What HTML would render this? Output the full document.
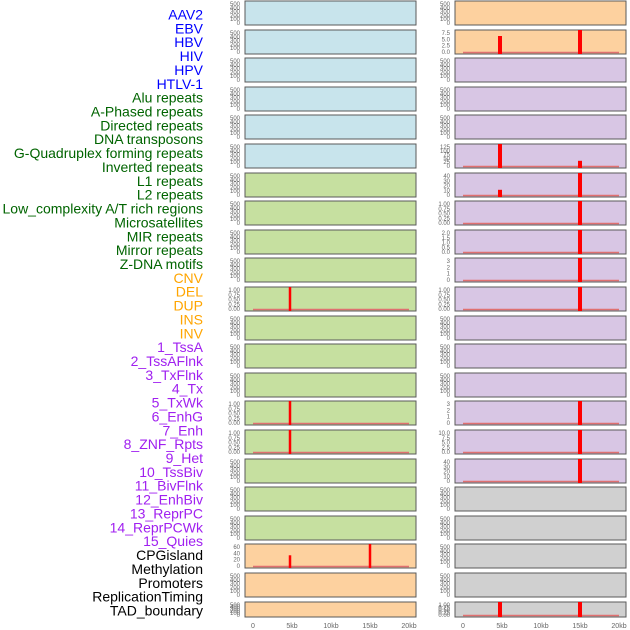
<!DOCTYPE html>
<html><head><meta charset="utf-8"><style>
html,body{margin:0;padding:0;background:#fff;width:630px;height:630px;overflow:hidden}
svg{display:block}
</style></head><body>
<svg id="s" width="630" height="630" xmlns="http://www.w3.org/2000/svg" font-family="Liberation Sans, sans-serif"></svg>
<script>
const s=document.getElementById('s');let h='';
const labels=[["AAV2","EBV","HBV","HIV","HPV","HTLV-1"],["Alu repeats","A-Phased repeats","Directed repeats","DNA transposons","G-Quadruplex forming repeats","Inverted repeats","L1 repeats","L2 repeats","Low_complexity A/T rich regions","Microsatellites","MIR repeats","Mirror repeats","Z-DNA motifs"],["CNV","DEL","DUP","INS","INV"],["1_TssA","2_TssAFlnk","3_TxFlnk","4_Tx","5_TxWk","6_EnhG","7_Enh","8_ZNF_Rpts","9_Het","10_TssBiv","11_BivFlnk","12_EnhBiv","13_ReprPC","14_ReprPCWk","15_Quies"],["CPGisland","Methylation","Promoters","ReplicationTiming","TAD_boundary"]];
const cols=["#0000ff","#006400","#ffa500","#a020f0","#000000"];
let k=0;
labels.forEach((g,gi)=>g.forEach(t=>{h+=`<text x="203" y="${19.5+k*13.86}" text-anchor="end" font-size="14" fill="${cols[gi]}">${t}</text>`;k++;}));
const BLUE="#c8e4ec",GREEN="#c6e0a0",ORANGE="#fdd19f",PURPLE="#d8c6e4",GRAY="#d0d0d0";
const T5="500 400 300 200 100 0",TF="1.00 0.75 0.50 0.25 0.00";
const L={10:[TF,[[290,0]]],14:[TF,[[290,0]]],15:[TF,[[290,0]]],19:["60 40 20 0",[[290,0.47],[370,0]]]};
const R={1:["7.5 5.0 2.5 0.0",[[500,0.25],[580,0]]],5:["125 100 75 50 25 0",[[500,0],[580,0.7]]],6:["40 30 20 10 0",[[500,0.7],[580,0]]],7:[TF,[[580,0]]],8:["2.0 1.5 1.0 0.5 0.0",[[580,0]]],9:["3 2 1 0",[[580,0]]],10:[TF,[[580,0]]],14:["3 2 1 0",[[580,0]]],15:["10.0 7.5 5.0 2.5 0.0",[[580,0]]],16:["40 30 20 10 0",[[580,0]]],21:[TF,[[500,0],[580,0]]]};
function panel(x0,top,hh,fill,ticks,bars,zx,bw){
 h+=`<rect x="${x0}" y="${top}" width="171" height="${hh}" fill="${fill}" stroke="#5a5a5a" stroke-width="1"/>`;
 const tl=ticks.split(' ');const n=tl.length;
 tl.forEach((t,i)=>{const y=top+3+(hh-5)*i/(n-1);h+=`<text x="${x0-5}" y="${y+2}" text-anchor="end" font-size="6" fill="#666">${t}</text>`;});
 if(bars.length){h+=`<line x1="${zx}" x2="${zx+156}" y1="${top+hh-1.5}" y2="${top+hh-1.5}" stroke="#e07070" stroke-width="1.5"/>`;}
 bars.forEach(([bx,f])=>{const y=top+f*hh;h+=`<rect x="${bx-bw/2}" y="${y}" width="${bw}" height="${top+hh-y}" fill="#ff0000"/>`;});
}
for(let i=0;i<22;i++){
 const top=Math.round(1+28.6*i);const hh=i==21?15:24;
 const lf=i<6?BLUE:(i<19?GREEN:ORANGE);
 const rf=i<2?ORANGE:(i<17?PURPLE:GRAY);
 const l=L[i]||[T5,[]],r=R[i]||[T5,[]];
 panel(245,top,hh,lf,l[0],l[1],253,2.5);
 panel(455,top,hh,rf,r[0],r[1],463,4);
}
["0","5kb","10kb","15kb","20kb"].forEach((t,i)=>{
 h+=`<text x="${253+39*i}" y="628" text-anchor="middle" font-size="7" fill="#666">${t}</text>`;
 h+=`<text x="${463+39*i}" y="628" text-anchor="middle" font-size="7" fill="#666">${t}</text>`;
});
s.innerHTML=h;
</script>
</body></html>
